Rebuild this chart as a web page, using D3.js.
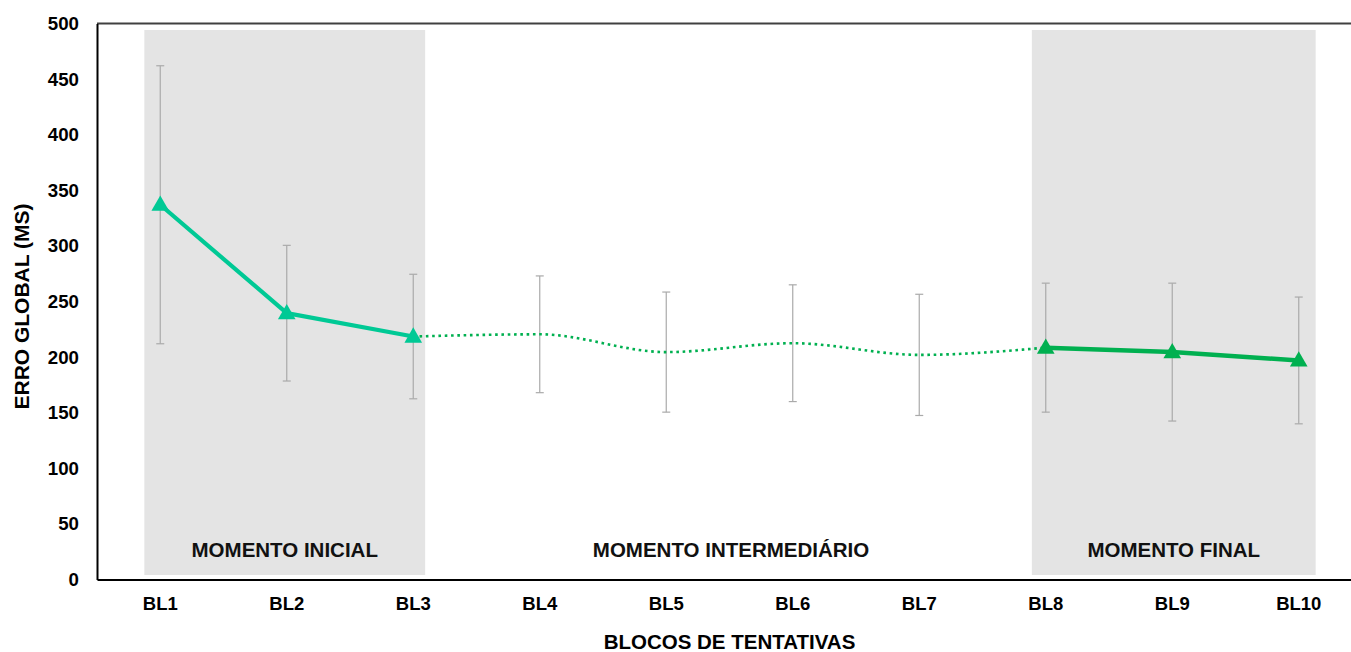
<!DOCTYPE html>
<html>
<head>
<meta charset="utf-8">
<script src="https://cdn.jsdelivr.net/npm/d3@7"></script>
<style>
  html, body { margin: 0; padding: 0; background: #fff; }
  svg { display: block; font-family: "Liberation Sans", Arial, sans-serif; }
</style>
</head>
<body>
<svg id="chart" width="1351" height="652"></svg>
<script>
// Blocks of trials and the global error (ms) per block: mean and standard deviation
const categories = ["BL1", "BL2", "BL3", "BL4", "BL5", "BL6", "BL7", "BL8", "BL9", "BL10"];
const means = [337, 239.5, 218.5, 220.5, 204.5, 212.5, 202, 208.5, 204.5, 197];
const sds = [125, 61, 56, 52.5, 54, 52.5, 54.5, 58, 62, 57];
const yTicks = [0, 50, 100, 150, 200, 250, 300, 350, 400, 450, 500];

// Phases of the protocol
const phaseLabels = ["MOMENTO INICIAL", "MOMENTO INTERMEDIÁRIO", "MOMENTO FINAL"];
const phaseStart = ["BL1", "BL4", "BL8"];
const phaseEnd = ["BL3", "BL7", "BL10"];
const phaseShaded = [true, false, true];

const xTitle = "BLOCOS DE TENTATIVAS";
const yTitle = "ERRO GLOBAL (MS)";

const teal = "#00C995";
const green = "#00B050";
const barGray = "#AAAAAA";
const shade = "#E4E4E4";

const svg = d3.select("#chart");
const plotLeft = 97, plotTop = 23.5, plotBottom = 579.5, plotRight = 1362;

const x = d3.scaleBand().domain(categories).range([plotLeft, plotRight]);
const cx = c => x(c) + x.bandwidth() / 2;
const y = d3.scaleLinear().domain([0, 500]).range([plotBottom, plotTop]);

// Shaded phase backgrounds and phase labels
const pad = x.bandwidth() * 0.11;
phaseLabels.forEach((lab, i) => {
  const x0 = cx(phaseStart[i]) - pad - (i === 0 ? 2 : 0);
  const x1 = cx(phaseEnd[i]) + pad + (i === 0 ? -2 : 3);
  if (phaseShaded[i]) {
    svg.append("rect")
      .attr("x", x0).attr("y", plotTop + 6.5)
      .attr("width", x1 - x0).attr("height", plotBottom - 4.5 - (plotTop + 6.5))
      .attr("fill", shade);
  }
  svg.append("text")
    .attr("x", (x0 + x1) / 2).attr("y", 557)
    .attr("text-anchor", "middle")
    .attr("font-weight", "bold").attr("font-size", 20.5)
    .attr("fill", "#111")
    .text(lab);
});

// Frame: top border
svg.append("line")
  .attr("x1", plotLeft).attr("x2", plotRight)
  .attr("y1", plotTop).attr("y2", plotTop)
  .attr("stroke", "#404040").attr("stroke-width", 2);

// Error bars (± SD)
const pts = categories.map((c, i) => ({ c, m: means[i], s: sds[i], i }));
const eb = svg.append("g").attr("stroke", barGray).attr("stroke-width", 1.2);
pts.forEach(p => {
  const px = cx(p.c);
  eb.append("line").attr("x1", px).attr("x2", px)
    .attr("y1", y(p.m + p.s)).attr("y2", y(p.m - p.s));
  [p.m + p.s, p.m - p.s].forEach(v => {
    eb.append("line").attr("x1", px - 4).attr("x2", px + 4)
      .attr("y1", y(v)).attr("y2", y(v));
  });
});

// Lines: solid for the initial and final phases, smoothed dotted in between
const straight = d3.line().x(d => cx(d.c)).y(d => y(d.m));
const smooth = d3.line().x(d => cx(d.c)).y(d => y(d.m)).curve(d3.curveMonotoneX);

svg.append("path").datum(pts.slice(2, 8))
  .attr("d", smooth).attr("fill", "none")
  .attr("stroke", green).attr("stroke-width", 2.6)
  .attr("stroke-dasharray", "2.6 3.7");

svg.append("path").datum(pts.slice(0, 3))
  .attr("d", straight).attr("fill", "none")
  .attr("stroke", teal).attr("stroke-width", 4.2)
  .attr("stroke-linejoin", "round");

svg.append("path").datum(pts.slice(7, 10))
  .attr("d", straight).attr("fill", "none")
  .attr("stroke", green).attr("stroke-width", 4.5)
  .attr("stroke-linejoin", "round");

// Triangle markers
const tri = d3.symbol().type(d3.symbolTriangle).size(135);
svg.selectAll("path.marker")
  .data(pts.filter(p => p.i <= 2 || p.i >= 7))
  .join("path").attr("class", "marker")
  .attr("d", tri)
  .attr("transform", d => `translate(${cx(d.c)},${y(d.m) + 1})`)
  .attr("fill", d => d.i <= 2 ? teal : green);

// Axes
const yAxis = svg.append("g")
  .attr("transform", `translate(${plotLeft},0)`)
  .call(d3.axisLeft(y).tickValues(yTicks).tickSize(0).tickSizeOuter(0).tickPadding(18));
yAxis.select(".domain").attr("stroke", "#000").attr("stroke-width", 2);
yAxis.selectAll("text")
  .attr("font-size", 18.7).attr("font-weight", "bold")
  .attr("font-family", "Liberation Sans, Arial, sans-serif")
  .attr("fill", "#000");

const xAxis = svg.append("g")
  .attr("transform", `translate(0,${plotBottom})`)
  .call(d3.axisBottom(x).tickSize(0).tickSizeOuter(0).tickPadding(17));
xAxis.select(".domain").attr("stroke", "#000").attr("stroke-width", 2.2);
xAxis.selectAll("text")
  .attr("font-size", 18.5).attr("font-weight", "bold")
  .attr("font-family", "Liberation Sans, Arial, sans-serif")
  .attr("fill", "#000");

// Axis titles
svg.append("text")
  .attr("x", (plotLeft + plotRight) / 2).attr("y", 649)
  .attr("text-anchor", "middle")
  .attr("font-size", 20.5).attr("font-weight", "bold")
  .attr("fill", "#000")
  .text(xTitle);

svg.append("text")
  .attr("transform", `translate(29,${(plotTop + plotBottom) / 2 + 5}) rotate(-90)`)
  .attr("text-anchor", "middle")
  .attr("font-size", 21).attr("font-weight", "bold")
  .attr("fill", "#000")
  .text(yTitle);
</script>
</body>
</html>
